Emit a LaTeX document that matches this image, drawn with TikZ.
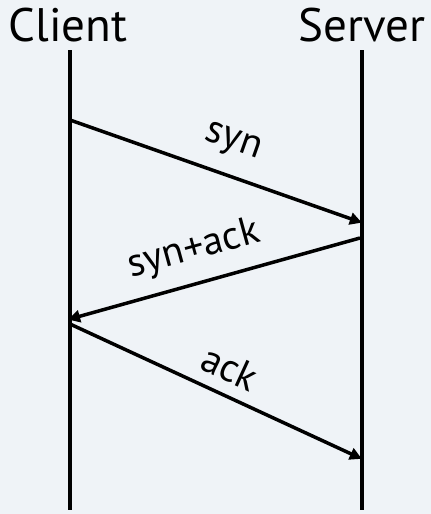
\documentclass[tikz,border=0pt]{standalone}
\usepackage{fontspec}
\setmainfont{PT Sans}
\usetikzlibrary{arrows.meta}
\definecolor{bgc}{RGB}{239,243,247}
\begin{document}
\begin{tikzpicture}[x=1pt,y=-1pt,
  life/.style={line width=3.5pt},
  msg/.style={line width=3.5pt,-{Triangle[length=12pt,width=12pt]},shorten >=-2pt},
  head/.style={font=\fontsize{47}{49}\selectfont,anchor=base},
  lbl/.style={font=\fontsize{40}{42}\selectfont}]
\fill[bgc] (0,0) rectangle (431,514);
\useasboundingbox (0,0) rectangle (431,514);
\node[head] (client) at (68,41) {Client};
\node[head] (server) at (362,41) {Server};
\coordinate (c0) at (70,50);
\coordinate (c1) at (70,510);
\coordinate (s0) at (362,50);
\coordinate (s1) at (362,510);
\draw[life] (c0) -- (c1);
\draw[life] (s0) -- (s1);
\coordinate (a1) at (70,120);
\coordinate (b1) at (360,222);
\coordinate (a2) at (360,238);
\coordinate (b2) at (70,319);
\coordinate (a3) at (70,324);
\coordinate (b3) at (360,458);
\draw[msg] (a1) -- (b1);
\draw[msg] (a2) -- (b2);
\draw[msg] (a3) -- (b3);
\node[lbl,rotate=-19.4] (l1) at (233,143) {syn};
\node[lbl,rotate=15.3] (l2) at (194,250) {syn+ack};
\node[lbl,rotate=-24.6] (l3) at (230,368) {ack};
\end{tikzpicture}
\end{document}
